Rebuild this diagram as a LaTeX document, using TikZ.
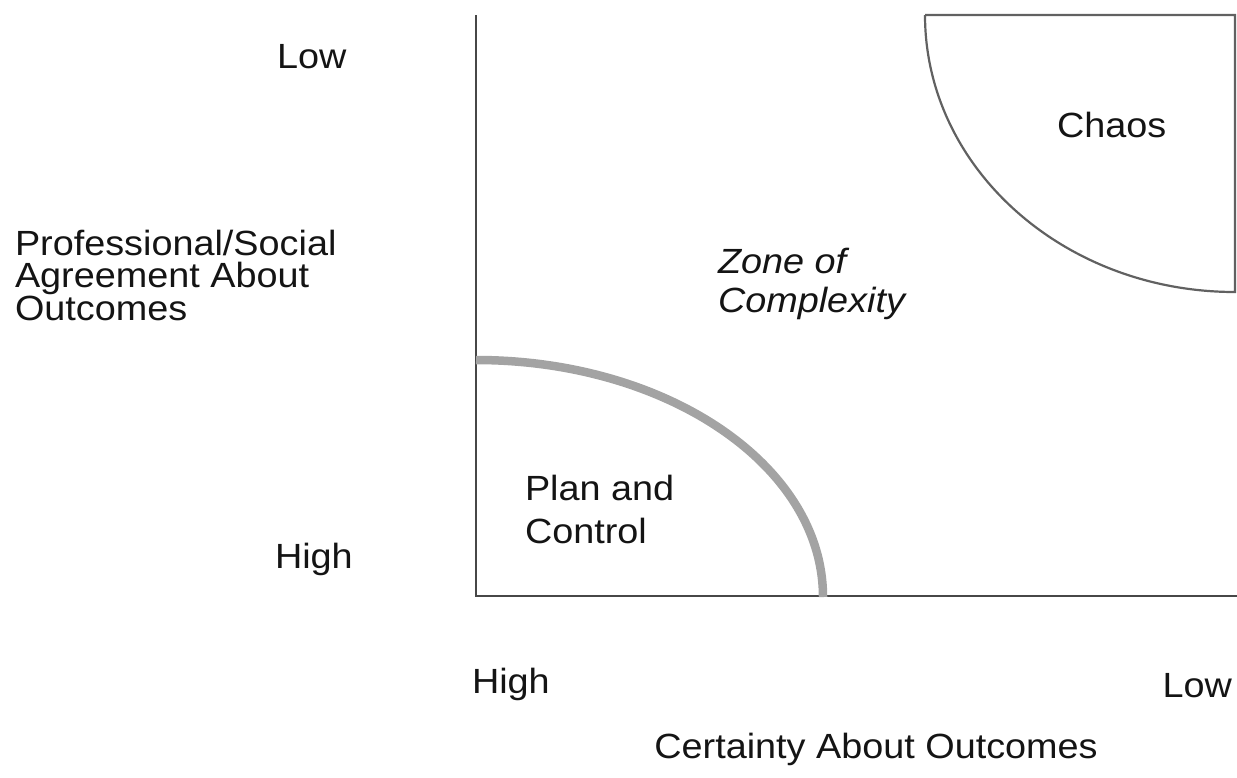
\documentclass[tikz,border=0pt]{standalone}
\usepackage{fontspec}
\setmainfont{Liberation Sans}[FakeStretch=1.08]
\begin{document}
\begin{tikzpicture}[x=1pt,y=-1pt,
  lbl/.style={inner sep=0pt, outer sep=0pt, text=black!92, font=\fontsize{35}{32}\selectfont},
  axis/.style={draw=black!72, line width=2.2pt},
  zoneline/.style={draw=black!62, line width=2.2pt},
  bound/.style={draw=black!36, line width=8.5pt}]
\useasboundingbox (0,0) rectangle (1237,777);
% axes
\coordinate (top) at (476,15);
\coordinate (origin) at (476,596);
\coordinate (right) at (1237,596);
\draw[axis] (top) -- (origin) -- (right);
% chaos region
\coordinate (cA) at (925,15);
\coordinate (cB) at (1235,15);
\coordinate (cC) at (1235,292);
\draw[zoneline, line join=miter] (cA) -- (cB) -- (cC) arc[start angle=90, end angle=180, x radius=310, y radius=277];
% plan and control boundary
\coordinate (pA) at (476,360);
\draw[bound] (pA) arc[start angle=270, end angle=360, x radius=347, y radius=237];
% labels
\node[lbl, anchor=base west] (ylow) at (277,68) {Low};
\node[lbl, anchor=base west] (yhigh) at (275,568) {High};
\node[lbl, anchor=base west, align=left, font=\fontsize{35}{31.5}\selectfont] (ytitle) at (15,320) {Professional/Social\\Agreement About\\Outcomes};
\node[lbl, anchor=base west, align=left, font=\fontsize{35}{39}\selectfont\itshape] (zone) at (718,312) {Zone of\\Complexity};
\node[lbl, anchor=base west] (chaos) at (1057,137) {Chaos};
\node[lbl, anchor=base west, align=left, font=\fontsize{35}{43}\selectfont] (plan) at (525,543) {Plan and\\Control};
\node[lbl, anchor=base west] (xhigh) at (472,693) {High};
\node[lbl, anchor=base east] (xlow) at (1232,697) {Low};
\node[lbl, anchor=base] (xtitle) at (876,758) {Certainty About Outcomes};
\end{tikzpicture}
\end{document}
